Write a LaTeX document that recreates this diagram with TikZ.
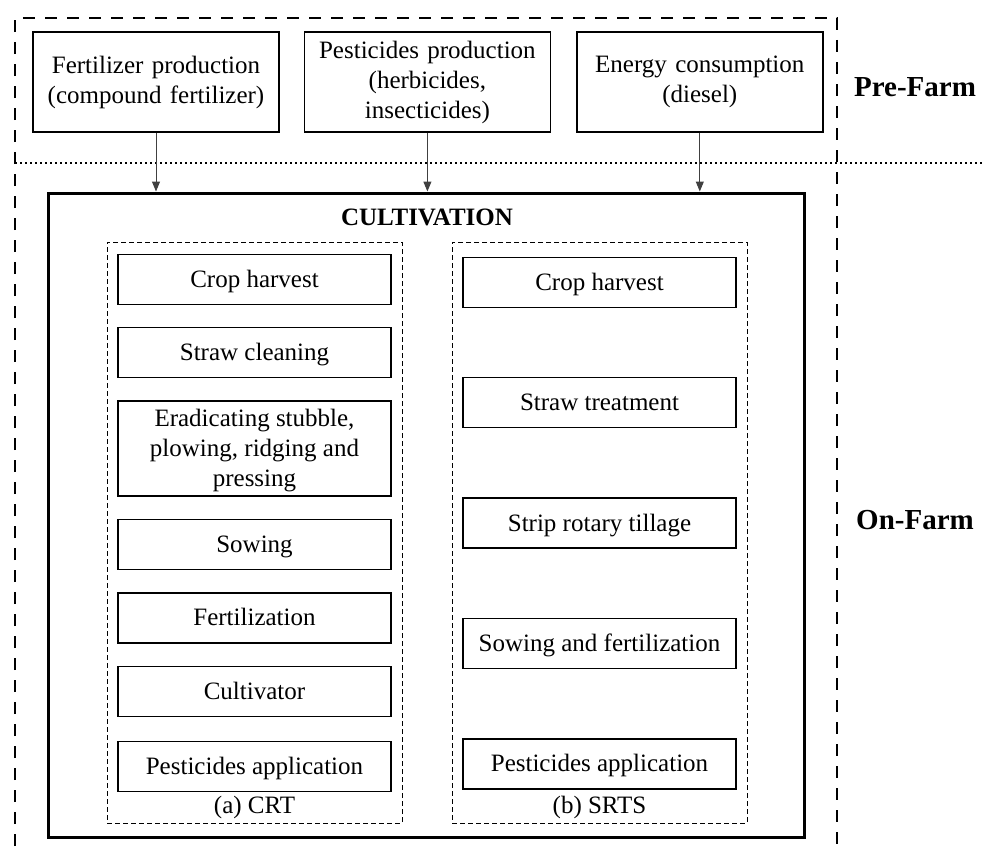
\documentclass[tikz,border=0pt]{standalone}
\usepackage{fontspec}
\setmainfont{Liberation Serif}
\usetikzlibrary{arrows.meta,positioning}

\begin{document}
\begin{tikzpicture}[
				x=0.5pt,y=-0.5pt,
				every node/.style={font=\fontsize{12.5}{15}\selectfont},
				input/.style={draw,rectangle,line width=0.7pt,minimum width=123pt,minimum height=50pt,text width=115pt,align=center,inner sep=4pt},
				group/.style={draw,rectangle,dash pattern=on 2.5pt off 1.5pt,line width=0.5pt,minimum width=147.5pt,minimum height=290.5pt},
				stage/.style={draw,rectangle,line width=0.7pt,minimum width=136.5pt,minimum height=25pt,align=center,inner sep=2pt,text depth=0.5pt},
				flow/.style={-{Triangle[length=5pt,width=4pt]},line width=0.5pt,black!75},
				zonelabel/.style={font=\fontsize{14.5}{17}\selectfont\bfseries}
				]
				\useasboundingbox (0,0) rectangle (984,846);
				
				% Pre-Farm inputs
				\node[input] (fert) at (156,82) {Fertilizer production\\(compound fertilizer)};
				\node[input,right=12pt of fert] (pest) {Pesticides production\\(herbicides,\\insecticides)};
				\node[input,right=12.5pt of pest] (energy) {Energy consumption\\(diesel)};
				
				% System boundary
				\coordinate (bl) at (15,846);
				\coordinate (br) at (837,846);
				\draw[line width=1.4pt,dash pattern=on 6pt off 5pt] (bl) |- (br |- 0,18) -- (br);
				\draw[line width=1.1pt,dash pattern=on 1.2pt off 1.3pt] (15,163) -- (984,163);
				\node[zonelabel] (pre) at (915,87) {Pre-Farm};
				\node[zonelabel] (on) at (915,520) {On-Farm};
				
				% Cultivation
				\node[draw,rectangle,line width=1.5pt,minimum width=378pt,minimum height=322pt] (cult) at (426,515) {};
				\node[font=\fontsize{12.5}{14}\selectfont\bfseries] (culttitle) at (427,217) {CULTIVATION};
				
				% Inputs into cultivation
				\draw[flow] (fert.south) -- (fert.south |- cult.north);
				\draw[flow] (pest.south) -- (pest.south |- cult.north);
				\draw[flow] (energy.south) -- (energy.south |- cult.north);
				
				% (a) CRT
				\node[group] (crt) at (254.5,532.5) {};
				\node[stage,below=6pt of crt.north] (crt1) {Crop harvest};
				\node[stage,below=11pt of crt1] (crt2) {Straw cleaning};
				\node[stage,minimum height=47.5pt,below=11pt of crt2] (crt3) {Eradicating stubble,\\plowing, ridging and\\pressing};
				\node[stage,below=11pt of crt3] (crt4) {Sowing};
				\node[stage,below=11pt of crt4] (crt5) {Fertilization};
				\node[stage,below=11pt of crt5] (crt6) {Cultivator};
				\node[stage,below=12pt of crt6] (crt7) {Pesticides application};
				\node[above=0pt,inner sep=2pt] (crtname) at (crt.south) {(a) CRT};
				
				% (b) SRTS
				\node[group,right=24.5pt of crt] (srts) {};
				\node[stage,below=7.5pt of srts.north] (srts1) {Crop harvest};
				\node[stage,below=34.5pt of srts1] (srts2) {Straw treatment};
				\node[stage,below=34.5pt of srts2] (srts3) {Strip rotary tillage};
				\node[stage,below=34.5pt of srts3] (srts4) {Sowing and fertilization};
				\node[stage,below=34.5pt of srts4] (srts5) {Pesticides application};
				\node[above=0pt,inner sep=2pt] (srtsname) at (srts.south) {(b) SRTS};
				
			\end{tikzpicture}
\end{document}
